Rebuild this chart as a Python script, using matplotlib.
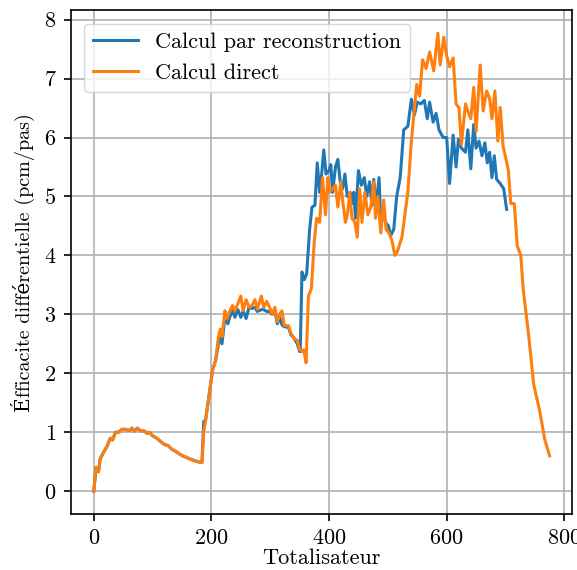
import matplotlib
matplotlib.use("Agg")
import matplotlib.pyplot as plt

plt.rcParams['font.family'] = ['cmr10', 'DejaVu Serif']
plt.rcParams['mathtext.fontset'] = 'cm'
plt.rcParams['axes.formatter.use_mathtext'] = True
plt.rcParams['font.size'] = 16
plt.rcParams['xtick.major.size'] = 5.25
plt.rcParams['ytick.major.size'] = 5.25
plt.rcParams['xtick.major.width'] = 1.2
plt.rcParams['ytick.major.width'] = 1.2
plt.rcParams['xtick.major.pad'] = 5.25
plt.rcParams['ytick.major.pad'] = 5.25
plt.rcParams['axes.linewidth'] = 1.2

# Shared first segment (both curves coincide)
x_seg1 = [0, 4, 8, 11, 16, 23, 28, 32, 37, 42, 48, 54, 61, 65, 69, 74, 79, 86, 91, 95,
          100, 107, 113, 119, 127, 133, 139, 149, 158, 168, 177, 184]
y_seg1 = [0.0, 0.4, 0.33, 0.55, 0.65, 0.77, 0.9, 0.87, 1.0, 1.0, 1.05, 1.05, 1.03, 1.07,
          1.02, 1.07, 1.03, 1.02, 0.98, 1.0, 0.94, 0.9, 0.85, 0.8, 0.77, 0.71, 0.68, 0.61,
          0.57, 0.53, 0.5, 0.49]

# Calcul par reconstruction (after first segment)
x_recon_rest = [187, 190, 196, 202, 207, 212, 215, 218, 223, 228, 231, 236, 240, 245, 250,
                254, 259, 264, 269, 274, 278, 285, 289, 294, 299, 303, 308, 312, 316, 320,
                324, 331, 335, 341, 346, 350,
                351, 354, 358, 362, 367, 371, 376, 380, 384, 387, 391, 395, 400, 403, 406,
                411, 415, 419, 423, 427, 431, 436, 439, 442, 445, 450, 455, 460, 464, 469,
                473, 476, 480, 485, 488, 492, 496, 501, 505, 510, 515, 521, 527, 534, 540,
                545, 550, 556, 562, 567, 571, 577, 582, 587, 594, 600, 605, 611, 616, 620,
                625, 632, 636, 641, 646, 650, 655, 660, 665, 669, 673, 677, 681, 685, 691,
                697, 702]
y_recon_rest = [1.18, 1.21, 1.62, 2.06, 2.21, 2.5, 2.7, 2.5, 2.95, 2.84, 2.95, 3.06, 2.95,
                3.08, 2.95, 3.06, 2.93, 3.12, 3.1, 3.12, 3.05, 3.08, 3.08, 3.05, 3.05, 3.0,
                3.06, 2.84, 2.95, 2.82, 2.79, 2.78, 2.66, 2.59, 2.5, 2.37,
                2.37, 3.72, 3.59, 3.69, 4.44, 4.82, 4.85, 5.57, 5.07, 5.32, 5.79, 5.38, 5.44,
                5.54, 5.07, 5.5, 5.63, 5.25, 5.13, 5.38, 5.0, 5.07, 4.88, 5.07, 4.63, 5.44,
                5.19, 5.32, 5.0, 5.25, 4.85, 5.29, 4.82, 5.32, 4.56, 4.7, 4.56, 4.5, 4.34,
                4.44, 5.0, 5.32, 6.13, 6.19, 6.65, 6.38, 6.6, 6.57, 6.63, 6.32, 6.6, 6.26,
                6.41, 6.13, 6.0, 6.0, 5.22, 6.04, 5.5, 5.97, 5.82, 5.75, 6.13, 5.47, 6.22,
                5.82, 5.94, 5.69, 5.91, 5.57, 5.75, 5.32, 5.69, 5.29, 5.22, 5.13, 4.78]

# Calcul direct (after first segment)
x_direct_rest = [187, 190, 196, 202, 207, 212, 215, 218, 223, 226, 231, 236, 240, 245, 250,
                 254, 259, 264, 269, 274, 278, 285, 289, 294, 299, 303, 308, 312, 316, 320,
                 324, 331, 335, 341, 346, 350,
                 354, 357, 361, 365, 370, 375, 379, 384, 389, 394, 398, 401, 406, 411, 415,
                 420, 423, 428, 432, 435, 439, 444, 448, 452, 456, 461, 466, 471, 476, 479,
                 483, 488, 493, 497, 502, 507, 512, 516, 524, 534, 540, 543, 549, 554, 559,
                 565, 571, 578, 585, 589, 595, 600, 605, 611, 616, 621, 625, 632, 636, 641,
                 646, 650, 657, 662, 668, 673, 677, 682, 687, 691, 696, 701, 705, 709, 715,
                 720, 726, 730, 739, 748, 758, 767, 775]
y_direct_rest = [1.02, 1.18, 1.62, 2.06, 2.21, 2.62, 2.75, 2.62, 3.06, 2.92, 3.05, 3.15,
                 3.06, 3.18, 3.31, 3.06, 3.25, 3.12, 3.15, 3.25, 3.09, 3.31, 3.12, 3.22,
                 3.12, 3.0, 3.12, 2.87, 3.0, 3.06, 2.81, 2.81, 2.68, 2.59, 2.56, 2.4,
                 2.37, 2.4, 2.18, 3.31, 3.44, 4.25, 4.63, 4.56, 5.32, 4.69, 5.32, 5.07, 5.13,
                 5.19, 4.82, 5.25, 4.94, 4.56, 4.75, 5.07, 4.63, 4.56, 4.31, 5.13, 4.56,
                 5.07, 4.69, 4.82, 5.25, 4.63, 5.0, 4.38, 4.94, 4.44, 4.38, 4.25, 4.0, 4.06,
                 4.31, 5.07, 5.94, 6.26, 6.9, 6.7, 7.32, 7.17, 7.45, 7.13, 7.77, 7.23, 7.7,
                 7.39, 7.2, 7.35, 6.57, 6.5, 5.88, 6.57, 6.45, 6.32, 6.85, 6.1, 7.23, 6.45,
                 6.79, 6.66, 6.32, 6.79, 5.94, 6.51, 5.85, 5.63, 5.44, 4.88, 4.88, 4.16, 4.0,
                 3.44, 2.68, 1.81, 1.37, 0.87, 0.6]

x_recon = x_seg1 + x_recon_rest
y_recon = y_seg1 + y_recon_rest
x_direct = x_seg1 + x_direct_rest
y_direct = y_seg1 + y_direct_rest

fig = plt.figure(figsize=(5.77, 5.70), dpi=100)
ax = fig.add_axes([0.123, 0.098, 0.869, 0.884])
ax.plot(x_recon, y_recon, color='#1f77b4', lw=2.2, label='Calcul par reconstruction')
ax.plot(x_direct, y_direct, color='#ff7f0e', lw=2.2, label='Calcul direct')
ax.grid(True, color='#b0b0b0', lw=1.2)
ax.set_axisbelow(True)
ax.set_xticks([0, 200, 400, 600, 800])
ax.set_yticks(range(0, 9))
ax.set_xlabel('Totalisateur', labelpad=0.5)
ax.set_ylabel('Éfficacite différentielle (pcm/pas)', fontsize=14.5, labelpad=6)
ax.legend(loc='upper left', borderaxespad=0.6)
fig.savefig('out.png', dpi=100)
